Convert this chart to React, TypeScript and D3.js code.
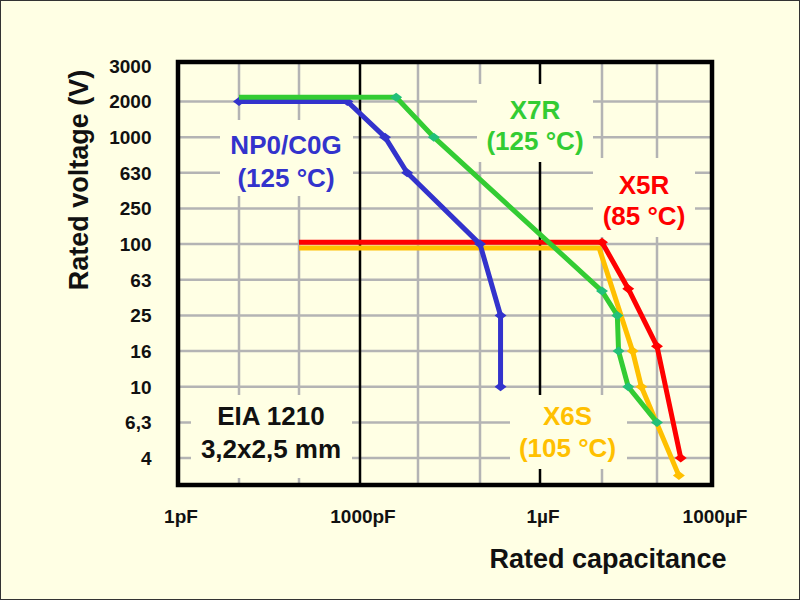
import React from "react";
import * as d3 from "d3";

// ---------- data ----------
const voltageLabels = ["3000", "2000", "1000", "630", "250", "100", "63", "25", "16", "10", "6,3", "4"];
const voltageLevels = [3000, 2000, 1000, 630, 250, 100, 63, 25, 16, 10, 6.3, 4];

const decadeCaps = [1e-12, 1e-11, 1e-10, 1e-9, 1e-8, 1e-7, 1e-6, 1e-5, 1e-4, 1e-3];
const majorCaps = [1e-9, 1e-6];
const capLabels = ["1pF", "1000pF", "1µF", "1000µF"];
const capLabelValues = [1e-12, 1e-9, 1e-6, 1e-3];

// NP0/C0G (blue)
const np0Cap = [10e-12, 620e-12, 2.7e-9, 6.5e-9, 100e-9, 220e-9, 220e-9];
const np0Volt = [2000, 2000, 1000, 630, 100, 25, 10];
const np0Marked = [true, true, true, true, true, true, true];

// X7R (green)
const x7rCap = [10e-12, 4.2e-9, 18e-9, 10e-6, 19e-6, 20e-6, 30e-6, 100e-6];
const x7rVolt = [2100, 2100, 1000, 47, 25, 16, 10, 6.3];
const x7rMarked = [false, true, true, true, true, true, true, true];

// X5R (red)
const x5rCap = [100e-12, 10e-6, 30e-6, 100e-6, 270e-6];
const x5rVolt = [105, 105, 50, 17, 4];
const x5rMarked = [false, true, true, true, true];

// X6S (yellow)
const x6sCap = [100e-12, 9e-6, 36e-6, 52e-6, 250e-6];
const x6sVolt = [95, 95, 16, 10, 3.2];
const x6sMarked = [false, false, true, true, true];

// ---------- layout / style ----------
const W = 800;
const H = 600;
const BG = "#FFFFE4";
const FONT = "'Liberation Sans', Arial, Helvetica, sans-serif";
const frame = { left: 178, right: 712, top: 62, bottom: 485 };
const decadeRange = [178, 239, 299, 360, 418, 480, 540, 602, 657, 712];

const BLUE = "#3333CC";
const GREEN = "#33CC33";
const RED = "#FF0000";
const YELLOW = "#FFC000";

type Pt = { c: number; v: number; m: boolean };
const zip = (c: number[], v: number[], m: boolean[]): Pt[] => c.map((cc, i) => ({ c: cc, v: v[i], m: m[i] }));

const series = [
  { name: "X6S", pts: zip(x6sCap, x6sVolt, x6sMarked), color: YELLOW, marker: YELLOW },
  { name: "X5R", pts: zip(x5rCap, x5rVolt, x5rMarked), color: RED, marker: RED },
  { name: "NP0", pts: zip(np0Cap, np0Volt, np0Marked), color: BLUE, marker: BLUE },
  { name: "X7R", pts: zip(x7rCap, x7rVolt, x7rMarked), color: GREEN, marker: "#22C07A" },
];

// label boxes (background patches hiding the grid) and texts
const labels = [
  { lines: ["NP0/C0G", "(125 °C)"], color: BLUE, cx: 286, base: [153.5, 187], box: [220, 120, 353, 196] },
  { lines: ["X7R", "(125 °C)"], color: GREEN, cx: 535, base: [118.5, 150], box: [477, 84, 593, 162] },
  { lines: ["X5R", "(85 °C)"], color: RED, cx: 644, base: [193.5, 225], box: [593, 158, 695, 237] },
  { lines: ["X6S", "(105 °C)"], color: YELLOW, cx: 567.5, base: [425, 457], box: [510, 395, 627, 469] },
  { lines: ["EIA 1210", "3,2x2,5 mm"], color: "#111111", cx: 271, base: [425, 457.5], box: [191, 395, 352, 478] },
];

export default function App() {
  const x = d3.scaleLog<number>().domain(decadeCaps).range(decadeRange);
  const yPoint = d3.scalePoint<string>().domain(voltageLabels).range([65.8, 458.1]);
  const y = d3
    .scaleLog<number>()
    .domain(voltageLevels)
    .range(voltageLabels.map((l) => yPoint(l) as number));

  const line = d3
    .line<Pt>()
    .x((d) => x(d.c))
    .y((d) => y(d.v));

  const diamond = d3.symbol().type(d3.symbolSquare).size(72)() as string;

  return (
    <svg
      width={W}
      height={H}
      viewBox={`0 0 ${W} ${H}`}
      style={{ position: "absolute", left: 0, top: 0, display: "block" }}
      fontFamily={FONT}
    >
      <rect x={0.5} y={0.5} width={W - 1} height={H - 1} fill={BG} stroke="#333" strokeWidth={1} />

      {/* horizontal grid */}
      {voltageLabels.slice(1).map((l) => (
        <line
          key={"h" + l}
          x1={frame.left}
          x2={frame.right}
          y1={yPoint(l)}
          y2={yPoint(l)}
          stroke="#B4B4B4"
          strokeWidth={2.5}
        />
      ))}
      {/* vertical grid */}
      {decadeCaps.slice(1, -1).map((c) => {
        const major = majorCaps.includes(c);
        return (
          <line
            key={"v" + c}
            x1={x(c)}
            x2={x(c)}
            y1={frame.top}
            y2={frame.bottom}
            stroke={major ? "#000" : "#B4B4B4"}
            strokeWidth={2.5}
          />
        );
      })}

      {/* label boxes */}
      {labels.map((lb, i) => (
        <rect
          key={"b" + i}
          x={lb.box[0]}
          y={lb.box[1]}
          width={lb.box[2] - lb.box[0]}
          height={lb.box[3] - lb.box[1]}
          fill={BG}
        />
      ))}

      {/* frame */}
      <rect
        x={frame.left}
        y={frame.top}
        width={frame.right - frame.left}
        height={frame.bottom - frame.top}
        fill="none"
        stroke="#000"
        strokeWidth={4.5}
      />

      {/* series */}
      {series.map((s) => (
        <g key={s.name}>
          <path d={line(s.pts) as string} fill="none" stroke={s.color} strokeWidth={5} strokeLinejoin="miter" />
          {s.pts
            .filter((p) => p.m)
            .map((p, i) => (
              <path
                key={i}
                d={diamond}
                fill={s.marker}
                transform={`translate(${x(p.c)},${y(p.v)}) scale(1,0.75) rotate(45)`}
              />
            ))}
        </g>
      ))}

      {/* series labels */}
      {labels.map((lb, i) => (
        <g key={"t" + i} fill={lb.color} fontWeight="bold" fontSize={26} textAnchor="middle">
          {lb.lines.map((t, j) => (
            <text key={j} x={lb.cx} y={lb.base[j]}>
              {t}
            </text>
          ))}
        </g>
      ))}

      {/* y tick labels */}
      {voltageLabels.map((l) => (
        <text
          key={"yl" + l}
          x={151.5}
          y={yPoint(l)}
          dy="0.36em"
          textAnchor="end"
          fontWeight="bold"
          fontSize={19}
          fill="#111"
        >
          {l}
        </text>
      ))}

      {/* x tick labels */}
      {capLabels.map((l, i) => (
        <text
          key={"xl" + l}
          x={x(capLabelValues[i]) + 3}
          y={523}
          textAnchor="middle"
          fontWeight="bold"
          fontSize={19}
          fill="#111"
        >
          {l}
        </text>
      ))}

      {/* axis titles */}
      <text
        transform="translate(88,180) rotate(-90)"
        textAnchor="middle"
        fontWeight="bold"
        fontSize={27}
        fill="#111"
      >
        Rated voltage (V)
      </text>
      <text x={608} y={568} textAnchor="middle" fontWeight="bold" fontSize={27} fill="#111">
        Rated capacitance
      </text>
    </svg>
  );
}
